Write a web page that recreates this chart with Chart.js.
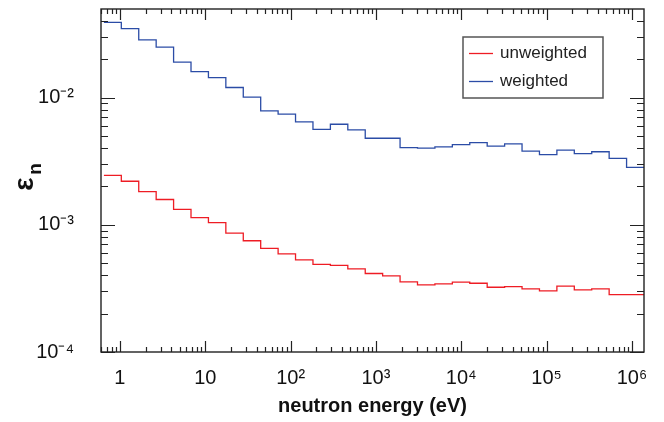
<!DOCTYPE html>
<html>
<head>
<meta charset="utf-8">
<script src="https://cdn.jsdelivr.net/npm/chart.js@4.4.0/dist/chart.umd.min.js"></script>
<style>
  html, body { margin: 0; padding: 0; background: #fff; }
  #wrap { width: 664px; height: 422px; }
</style>
</head>
<body>
<div id="wrap"><canvas id="myChart" width="664" height="422"></canvas></div>
<script>
// bin edges (eV), 31 bins across the axis
const binEdges = [0.649, 1.038, 1.661, 2.658, 4.253, 6.805, 10.89, 17.42, 27.88, 44.61, 71.38,
    114.2, 182.8, 292.5, 468.0, 748.9, 1198, 1917, 3068, 4910, 7857,
    12572, 20116, 32190, 51507, 82414, 131880, 211020, 337660, 540290, 864560, 1383600];

const unweighted = [0.00245, 0.00220, 0.00182, 0.00158, 0.00132, 0.00114, 0.00104, 0.000861, 0.000749, 0.000652,
    0.000591, 0.000530, 0.000488, 0.000479, 0.000451, 0.000414, 0.000397, 0.000356, 0.000337, 0.000343,
    0.000354, 0.000347, 0.000323, 0.000327, 0.000313, 0.000302, 0.000329, 0.000308, 0.000313, 0.000283, 0.000283];

const weighted = [0.0390, 0.0348, 0.0284, 0.0249, 0.0190, 0.0160, 0.01436, 0.0120, 0.01007, 0.00786,
    0.0074, 0.00644, 0.00563, 0.00617, 0.00557, 0.00479, 0.00479, 0.00404, 0.00400, 0.00409,
    0.00426, 0.00443, 0.00416, 0.00432, 0.00380, 0.00356, 0.00386, 0.00362, 0.00375, 0.00333, 0.00283];

const seriesNames = ['unweighted', 'weighted'];
const seriesColors = ['#ee1c24', '#2b4ca6'];

const xTickValues = [1, 10, 100, 1000, 10000, 100000, 1000000];
const xTickLabels = ['1', '10', '10²', '10³', '10⁴', '10⁵', '10⁶'];
const yTickValues = [0.0001, 0.001, 0.01];
const yTickLabels = ['10⁻⁴', '10⁻³', '10⁻²'];

const FONT = "'Liberation Sans', Arial, Helvetica, sans-serif";

// histogram as step line: one point per edge, last bin value repeated at the end
function toPoints(vals) {
    return binEdges.map((x, i) => ({ x: x, y: vals[Math.min(i, vals.length - 1)] }));
}

// frame + inward ticks on all four sides
const frameTicks = {
    id: 'frameTicks',
    afterDatasetsDraw(chart) {
        const ctx = chart.ctx, a = chart.chartArea;
        const xs = chart.scales.x, ys = chart.scales.y;
        ctx.save();
        ctx.strokeStyle = '#222';
        ctx.lineWidth = 1.4;
        ctx.strokeRect(a.left, a.top, a.right - a.left, a.bottom - a.top);
        ctx.lineWidth = 1.2;
        ctx.beginPath();
        for (let e = -1; e <= 6; e++) {
            for (let m = 1; m <= 9; m++) {
                const v = m * Math.pow(10, e);
                if (v < xs.min || v > xs.max) continue;
                const px = Math.round(xs.getPixelForValue(v)) + 0.5;
                const len = m === 1 ? 11 : 5;
                ctx.moveTo(px, a.bottom); ctx.lineTo(px, a.bottom - len);
                ctx.moveTo(px, a.top); ctx.lineTo(px, a.top + len);
            }
        }
        for (let e = -5; e <= -1; e++) {
            for (let m = 1; m <= 9; m++) {
                const v = m * Math.pow(10, e);
                if (v < ys.min || v > ys.max) continue;
                const py = Math.round(ys.getPixelForValue(v)) + 0.5;
                const len = m === 1 ? 14 : 7;
                ctx.moveTo(a.left, py); ctx.lineTo(a.left + len, py);
                ctx.moveTo(a.right, py); ctx.lineTo(a.right - len, py);
            }
        }
        ctx.stroke();
        ctx.restore();
    }
};

// boxed legend in the upper right
const boxLegend = {
    id: 'boxLegend',
    afterDraw(chart) {
        const ctx = chart.ctx;
        const bx = 463, by = 37, bw = 140, bh = 61;
        ctx.save();
        ctx.strokeStyle = '#555';
        ctx.lineWidth = 1.5;
        ctx.strokeRect(bx, by, bw, bh);
        ctx.font = '17px ' + FONT;
        ctx.textBaseline = 'middle';
        chart.data.datasets.forEach((ds, i) => {
            const y = by + 16.5 + i * 28;
            ctx.strokeStyle = ds.borderColor;
            ctx.lineWidth = 1.3;
            ctx.beginPath();
            ctx.moveTo(bx + 6, y); ctx.lineTo(bx + 30, y);
            ctx.stroke();
            ctx.fillStyle = '#222';
            ctx.fillText(ds.label, bx + 37, y);
        });
        ctx.restore();
    }
};

// y axis title: epsilon with subscript n, rotated
const yTitle = {
    id: 'yTitle',
    afterDraw(chart) {
        const ctx = chart.ctx;
        ctx.save();
        ctx.translate(30, 177);
        ctx.rotate(-Math.PI / 2);
        ctx.fillStyle = '#111';
        ctx.textAlign = 'center';
        ctx.textBaseline = 'middle';
        ctx.font = 'bold 28px ' + FONT;
        ctx.fillText('ε', -7, -5);
        ctx.font = 'bold 19px ' + FONT;
        ctx.fillText('n', 8, 6);
        ctx.restore();
    }
};

new Chart(document.getElementById('myChart'), {
    type: 'line',
    data: {
        datasets: [
            {
                label: seriesNames[0],
                data: toPoints(unweighted),
                borderColor: seriesColors[0],
                borderWidth: 1.3,
                stepped: 'before',
                pointRadius: 0,
                fill: false
            },
            {
                label: seriesNames[1],
                data: toPoints(weighted),
                borderColor: seriesColors[1],
                borderWidth: 1.3,
                stepped: 'before',
                pointRadius: 0,
                fill: false
            }
        ]
    },
    options: {
        responsive: false,
        animation: false,
        devicePixelRatio: 1,
        layout: { padding: { top: 9, right: 20, left: 0, bottom: 0 } },
        plugins: {
            legend: { display: false },
            tooltip: { enabled: false }
        },
        scales: {
            x: {
                type: 'logarithmic',
                min: binEdges[0],
                max: binEdges[binEdges.length - 1],
                afterBuildTicks: s => { s.ticks = xTickValues.map(v => ({ value: v })); },
                afterFit: s => { s.height = 70; s.paddingLeft = 0; s.paddingRight = 0; },
                grid: { display: false, drawTicks: false },
                border: { display: false },
                ticks: {
                    autoSkip: false,
                    maxRotation: 0,
                    padding: 14,
                    color: '#111',
                    font: { family: FONT, size: 20 },
                    callback: (v, i) => xTickLabels[i]
                },
                title: {
                    display: true,
                    text: 'neutron energy (eV)',
                    color: '#111',
                    font: { family: FONT, size: 20, weight: 'bold' },
                    padding: { top: 0, bottom: 4 }
                }
            },
            y: {
                type: 'logarithmic',
                min: 0.0001,
                max: 0.0497,
                afterBuildTicks: s => { s.ticks = yTickValues.map(v => ({ value: v })); },
                afterFit: s => { s.width = 101; s.paddingTop = 0; s.paddingBottom = 0; },
                grid: { display: false, drawTicks: false },
                border: { display: false },
                ticks: {
                    padding: 27,
                    color: '#111',
                    font: { family: FONT, size: 20 },
                    callback: (v, i) => yTickLabels[i]
                }
            }
        }
    },
    plugins: [frameTicks, boxLegend, yTitle]
});
</script>
</body>
</html>
